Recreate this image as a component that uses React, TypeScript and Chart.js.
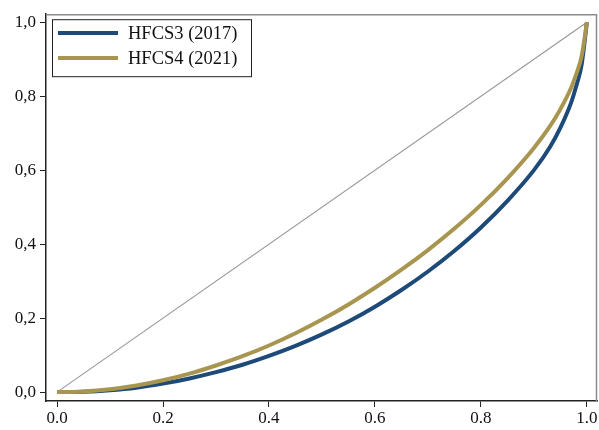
import React, { useEffect, useRef } from "react";
import { Chart, registerables } from "chart.js";

Chart.register(...registerables);

const populationShare = [0, 0.05, 0.1, 0.15, 0.2, 0.25, 0.3, 0.35, 0.4, 0.45, 0.5, 0.55, 0.6, 0.65, 0.7, 0.75, 0.8, 0.85, 0.9, 0.93, 0.95, 0.97, 0.98, 0.99, 1.0];
const hfcs3 = [0, 0.001, 0.005, 0.012, 0.023, 0.037, 0.054, 0.074, 0.098, 0.125, 0.156, 0.191, 0.231, 0.276, 0.326, 0.382, 0.445, 0.517, 0.6, 0.662, 0.715, 0.782, 0.828, 0.885, 1.0];
const hfcs4 = [0, 0.002, 0.008, 0.018, 0.032, 0.05, 0.072, 0.097, 0.126, 0.159, 0.196, 0.237, 0.282, 0.331, 0.384, 0.442, 0.506, 0.578, 0.66, 0.718, 0.765, 0.822, 0.86, 0.908, 1.0];
const equality = [0, 1];
const tickValues = [0, 0.2, 0.4, 0.6, 0.8, 1.0];
const seriesLabels = ["HFCS3 (2017)", "HFCS4 (2021)"];
const seriesColors = ["#1d4a78", "#a89650"];

const FONT = "'Liberation Serif', 'Times New Roman', serif";

const frameLegendPlugin = {
  id: "frameLegend",
  afterDraw(chart: any) {
    const { ctx, chartArea } = chart;
    const { left, right, top, bottom } = chartArea;
    ctx.save();
    ctx.strokeStyle = "#8c8c8c";
    ctx.lineWidth = 1.5;
    ctx.beginPath();
    ctx.moveTo(left, top + 0.5);
    ctx.lineTo(right - 0.5, top + 0.5);
    ctx.lineTo(right - 0.5, bottom);
    ctx.stroke();

    const bx = left + 6.5;
    const by = top + 5.5;
    const bw = 199;
    const bh = 57;
    ctx.fillStyle = "#ffffff";
    ctx.fillRect(bx, by, bw, bh);
    ctx.strokeStyle = "#222222";
    ctx.lineWidth = 1;
    ctx.strokeRect(bx, by, bw, bh);
    ctx.font = `18.5px ${FONT}`;
    ctx.textBaseline = "middle";
    ctx.textAlign = "left";
    const rows = [33, 58];
    seriesLabels.forEach((lab, i) => {
      ctx.strokeStyle = seriesColors[i];
      ctx.lineWidth = 4;
      ctx.beginPath();
      ctx.moveTo(58, rows[i]);
      ctx.lineTo(118, rows[i]);
      ctx.stroke();
      ctx.fillStyle = "#111111";
      ctx.fillText(lab, 128, rows[i] + 1);
    });
    ctx.restore();
  },
};

export default function App() {
  const ref = useRef<HTMLCanvasElement | null>(null);
  useEffect(() => {
    if (!ref.current) return;
    const toPts = (ys: number[]) => ys.map((y, i) => ({ x: populationShare[i], y }));
    const chart = new Chart(ref.current, {
      type: "line",
      data: {
        datasets: [
          {
            label: "equality",
            data: equality.map((v) => ({ x: v, y: v })),
            borderColor: "#999999",
            borderWidth: 1.2,
            pointRadius: 0,
            order: 3,
          },
          {
            label: seriesLabels[0],
            data: toPts(hfcs3),
            borderColor: seriesColors[0],
            borderWidth: 4,
            pointRadius: 0,
            cubicInterpolationMode: "monotone",
            order: 2,
          },
          {
            label: seriesLabels[1],
            data: toPts(hfcs4),
            borderColor: seriesColors[1],
            borderWidth: 4,
            pointRadius: 0,
            cubicInterpolationMode: "monotone",
            order: 1,
          },
        ],
      },
      options: {
        animation: false,
        responsive: false,
        maintainAspectRatio: false,
        layout: { padding: { left: 0, right: 2, top: 12, bottom: 0 } },
        plugins: { legend: { display: false }, tooltip: { enabled: false } },
        scales: {
          x: {
            type: "linear",
            min: -0.0208,
            max: 1.019,
            afterBuildTicks: (s: any) => {
              s.ticks = tickValues.map((v) => ({ value: v }));
            },
            afterFit: (s: any) => {
              s.height = 29;
            },
            ticks: {
              callback: (v: any) => Number(v).toFixed(1),
              color: "#111111",
              font: { family: FONT, size: 17 },
              padding: 1,
              maxRotation: 0,
              autoSkip: false,
            },
            grid: { drawOnChartArea: false, drawTicks: true, tickLength: 6, color: "#222222" },
            border: { color: "#222222", width: 1.5 },
          },
          y: {
            type: "linear",
            min: -0.024,
            max: 1.0215,
            afterBuildTicks: (s: any) => {
              s.ticks = tickValues.map((v) => ({ value: v }));
            },
            afterFit: (s: any) => {
              s.width = 46;
            },
            ticks: {
              callback: (v: any) => Number(v).toFixed(1).replace(".", ","),
              color: "#111111",
              font: { family: FONT, size: 17 },
              padding: 4,
              autoSkip: false,
            },
            grid: { drawOnChartArea: false, drawTicks: true, tickLength: 6, color: "#222222" },
            border: { color: "#222222", width: 1.5 },
          },
        },
      },
      plugins: [frameLegendPlugin],
    } as any);
    return () => chart.destroy();
  }, []);
  return (
    <div style={{ position: "absolute", left: 0, top: 0, width: 599, height: 430, background: "#fff" }}>
      <canvas ref={ref} width={599} height={430} style={{ display: "block" }} />
    </div>
  );
}
